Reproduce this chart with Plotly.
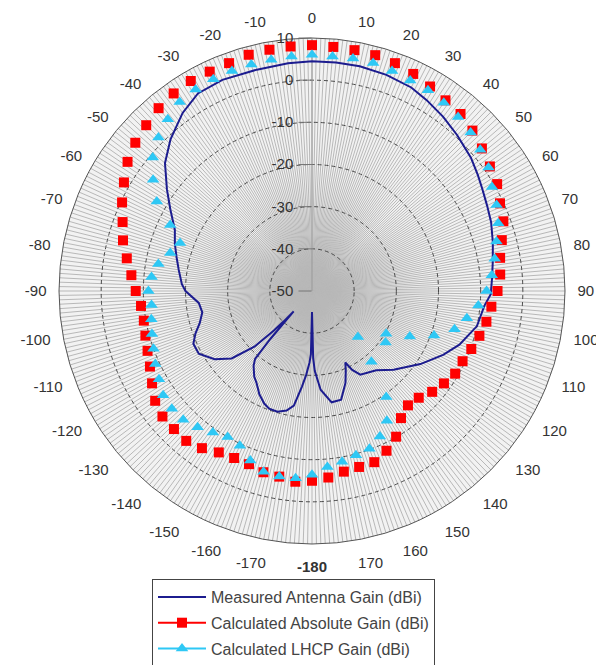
import plotly.graph_objects as go

# ---------------- data ----------------
meas_theta = [0, 6, 12, 19, 26, 31, 37, 43, 50, 55, 59, 64, 69, 75, 81, 86, 91, 95, 102, 110,
              116, 124, 134, 141, 150, 153, 155, 157, 160, 165, 170, 175, 178, 179, 180,
              -179, -178, -176, -174, -171, -168, -164, -160, -157, -153, -149, -146, -142,
              -140, -139, -138, -137, -136, -134, -130, -125, -119, -114, -110, -106, -101,
              -96, -90, -87, -81, -76, -71, -66, -60, -55, -49, -43, -36, -30, -23, -14, -6, 0]
meas_gain = [4.5, 4.5, 4.5, 4.2, 3.7, 2.8, 1.7, 0.5, -0.8, -2.0, -2.9, -3.8, -4.5, -5.6, -6.6, -7.2, -7.6, -9.0, -10.0, -12.8,
             -15.4, -19.0, -23.1, -25.8, -27.1, -29.0, -31.3, -29.5, -26.8, -23.3, -23.2, -26.5, -31.0, -34.0, -45.0,
             -35.0, -33.0, -30.0, -27.2, -22.5, -21.0, -20.2, -20.3, -21.0, -22.5, -24.5, -25.5, -27.5,
             -29.0, -35.0, -43.5, -40.0, -37.0, -31.0, -25.1, -21.8, -19.3, -19.2, -20.6, -22.3, -23.5,
             -23.0, -20.0, -19.1, -18.0, -16.9, -15.6, -14.4, -11.2, -8.0, -3.8, -0.8, 2.2, 4.1, 4.4, 4.1, 4.3, 4.5]

calc_theta = [0, 5, 10, 15, 20, 25, 30, 35, 40, 45, 50, 55, 60, 65, 70, 75, 80, 85, 90,
              95, 100, 105, 110, 115, 120, 125, 130, 135, 140, 145, 150, 155, 160, 165, 170, 175, 180,
              -175, -170, -165, -160, -155, -150, -145, -140, -135, -130, -125, -120, -115, -110,
              -105, -100, -95, -90, -85, -80, -75, -70, -65, -60, -55, -50, -45, -40, -35, -30,
              -25, -20, -15, -10, -5]

abs_gain = [8.3, 8.1, 8.0, 7.9, 7.5, 6.8, 6.0, 5.2, 4.8, 3.8, 2.6, 1.5, 0.7, -0.8, -1.7, -3.4, -4.7, -5.2, -6.0,
            -7.3, -8.0, -8.9, -9.8, -10.6, -10.8, -11.8, -12.8, -14.2, -14.6, -13.2, -10.1, -8.2, -6.8, -6.8, -6.5, -5.6, -5.0,
            -4.6, -5.3, -5.5, -6.3, -6.3, -5.8, -4.5, -3.6, -3.7, -3.7, -4.6, -6.2, -7.6, -8.5,
            -9.1, -9.5, -9.3, -8.2, -7.0, -5.4, -3.6, -2.2, -0.3, 1.5, 3.4, 4.7, 5.6, 6.6, 7.2, 7.5,
            7.4, 7.5, 8.0, 8.1, 8.2]

lhcp_gain = [6.0, 5.8, 6.0, 6.0, 5.5, 5.1, 5.0, 4.5, 3.9, 3.2, 2.1, 1.1, -0.7, -1.7, -3.0, -4.7, -6.0, -7.2, -8.6,
             -10.4, -12.7, -15.0, -19.2, -24.4, -29.7, -28.7, None, -34.6, -28.1, -19.3, -14.5, -11.9, -10.2, -9.7, -8.9, -8.1, -6.4,
             -5.4, -5.3, -5.6, -7.2, -9.5, -10.0, -9.0, -7.8, -6.8, -6.6, -6.9, -8.1, -9.0, -10.0,
             -10.7, -11.3, -11.8, -11.2, -11.8, -13.0, -15.2, -16.7, -12.9, -7.5, -4.0, -0.7, 1.5, 3.2, 4.7, 5.2,
             5.4, 5.5, 5.6, 5.7, 5.8]

# one spoke per degree (0..359), labels every 10 degrees shown as -180..170
angle_ticks = list(range(0, 360))
angle_text = []
for a in angle_ticks:
    lab = a if a < 180 else a - 360
    if a % 10 != 0:
        angle_text.append("")
    elif lab == -180:
        angle_text.append("<b>-180</b>")
    else:
        angle_text.append(str(lab))

radial_ticks = [-50, -40, -30, -20, -10, 0, 10]
radial_text = ["-50", "-40", "-30", "-20", "-10", "0", "10"]

names = ["Measured Antenna Gain (dBi)", "Calculated Absolute Gain (dBi)", "Calculated LHCP Gain (dBi)"]

NAVY = "#1c1c8f"
RED = "#ff0000"
CYAN = "#2ec8f5"

# page body has an 8px margin, so the figure is 8px smaller and shifted
W, H = 596, 657
CX, CY, R = 304, 283, 253

fig = go.Figure()
fig.add_trace(go.Scatterpolar(r=meas_gain, theta=meas_theta, mode="lines",
                              line=dict(color=NAVY, width=2), name=names[0], legendgroup="a"))
fig.add_trace(go.Scatterpolar(r=abs_gain, theta=calc_theta, mode="markers",
                              marker=dict(symbol="square", size=10, color=RED, line=dict(width=0)),
                              name=names[1], showlegend=False))
fig.add_trace(go.Scatterpolar(r=lhcp_gain, theta=calc_theta, mode="markers",
                              marker=dict(symbol="triangle-up", size=11, color=CYAN, line=dict(width=0)),
                              name=names[2], showlegend=False))
# legend entries (line + marker)
fig.add_trace(go.Scatterpolar(r=[None], theta=[None], mode="lines+markers",
                              line=dict(color=RED, width=2), legendgroup="b",
                              marker=dict(symbol="square", size=10, color=RED), name=names[1]))
fig.add_trace(go.Scatterpolar(r=[None], theta=[None], mode="lines+markers",
                              line=dict(color=CYAN, width=2), legendgroup="c",
                              marker=dict(symbol="triangle-up", size=11, color=CYAN), name=names[2]))

fig.update_layout(
    width=W, height=H,
    margin=dict(l=0, r=0, t=0, b=0, autoexpand=False),
    paper_bgcolor="white",
    font=dict(family="Arial, Liberation Sans, sans-serif", color="#333333"),
    polar=dict(
        domain=dict(x=[(CX - R) / W, (CX + R) / W], y=[1 - (CY + R) / H, 1 - (CY - R) / H]),
        bgcolor="#f2f2f2",
        angularaxis=dict(
            rotation=90, direction="clockwise",
            tickmode="array", tickvals=angle_ticks, ticktext=angle_text,
            showgrid=True, gridcolor="#b8b8b8", gridwidth=1,
            showline=True, linecolor="#555555", linewidth=1,
            ticks="outside", ticklen=9, tickcolor="rgba(0,0,0,0)",
            tickfont=dict(size=15, color="#333333"),
            layer="below traces",
        ),
        radialaxis=dict(
            range=[-50, 10], angle=90, side="counterclockwise",
            tickmode="array", tickvals=radial_ticks, ticktext=radial_text,
            tickangle=90,
            showgrid=True, gridcolor="#4a4a4a", griddash="4px,3px", gridwidth=1,
            showline=True, linecolor="#999999", linewidth=1,
            ticks="outside", ticklen=13, tickcolor="#777777",
            tickfont=dict(size=15, color="#333333"),
            layer="below traces",
        ),
    ),
    showlegend=True,
    legend=dict(
        x=144 / W, y=1 - 571 / H, xanchor="left", yanchor="top",
        bgcolor="white", bordercolor="#444444", borderwidth=1,
        font=dict(size=16, color="#444444"),
        itemwidth=48,
        tracegroupgap=2,
    ),
)

fig.write_html("out.html")
